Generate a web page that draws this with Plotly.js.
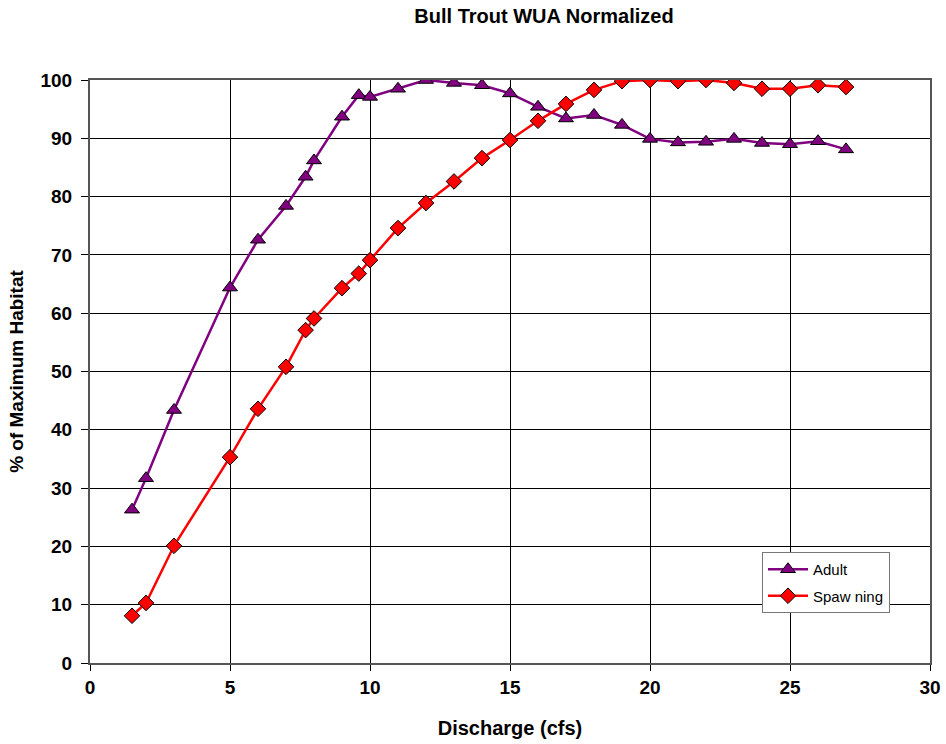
<!DOCTYPE html>
<html><head><meta charset="utf-8">
<script src="https://cdn.plot.ly/plotly-3.0.1.min.js"></script>
<style>html,body{margin:0;padding:0;background:#fff}#chart{width:946px;height:744px}</style>
</head><body><div id="chart"></div>
<script>
const discharge = [1.5, 2, 3, 5, 6, 7, 7.7, 8, 9, 9.6, 10, 11, 12, 13, 14, 15, 16, 17, 18, 19, 20, 21, 22, 23, 24, 25, 26, 27];
const adult = [26.3, 31.7, 43.4, 64.4, 72.6, 78.4, 83.4, 86.2, 93.7, 97.4, 97.1, 98.5, 100, 99.5, 99.1, 97.7, 95.4, 93.4, 94.0, 92.3, 89.9, 89.3, 89.4, 89.9, 89.2, 89.0, 89.5, 88.1];
const spawning = [8.1, 10.3, 20.1, 35.3, 43.6, 50.8, 57.1, 59.1, 64.3, 66.8, 69.1, 74.6, 78.9, 82.6, 86.6, 89.7, 93.0, 95.9, 98.3, 99.8, 100, 99.8, 100, 99.5, 98.5, 98.5, 99.1, 98.8];
const xTicks = [0, 5, 10, 15, 20, 25, 30];
const yTicks = [0, 10, 20, 30, 40, 50, 60, 70, 80, 90, 100];

const font = 'Liberation Sans, Arial, sans-serif';
const traces = [
  {x: discharge, y: adult, name: 'Adult', legendgroup: 'a', mode: 'lines+markers', type: 'scatter',
   line: {color: '#800080', width: 2.5},
   marker: {symbol: 'triangle-up', size: 13, color: '#800080', line: {color: '#000', width: 1}}},
  {x: discharge, y: spawning, name: 'Spaw ning', legendgroup: 'b', mode: 'lines+markers', type: 'scatter',
   line: {color: '#FF0000', width: 2.5},
   marker: {symbol: 'diamond', size: 12, color: '#FF0000', line: {color: '#000', width: 1}}}
];
const layout = {
  width: 946, height: 744,
  margin: {l: 90, r: 16, t: 80, b: 81},
  paper_bgcolor: '#fff', plot_bgcolor: '#fff',
  font: {family: font, color: '#000'},
  title: {text: '<b>Bull Trout WUA Normalized</b>', font: {size: 20, family: font}, x: 544 / 946, xanchor: 'center', xref: 'container', y: 1 - 16 / 744, yanchor: 'middle'},
  xaxis: {range: [0, 30], tickvals: xTicks, ticktext: xTicks.map(v => '<b>' + v + '</b>'),
    showgrid: true, gridcolor: '#000', gridwidth: 1, zeroline: false,
    showline: true, linecolor: '#555', linewidth: 2, mirror: true,
    ticks: 'outside', ticklen: 6, tickcolor: '#000', tickfont: {size: 19, family: font},
    title: {text: '<b>Discharge (cfs)</b>', font: {size: 20, family: font}, standoff: 24}},
  yaxis: {range: [0, 100], tickvals: yTicks, ticktext: yTicks.map(v => '<b>' + v + '</b>'),
    showgrid: true, gridcolor: '#000', gridwidth: 1, zeroline: false,
    showline: true, linecolor: '#555', linewidth: 2, mirror: true,
    ticks: 'outside', ticklen: 7, tickcolor: '#000', tickfont: {size: 19, family: font},
    ticklabelstandoff: 5,
    title: {text: '<b>% of Maximum Habitat</b>', font: {size: 19, family: font}, standoff: 12}},
  showlegend: true,
  legend: {x: (762 - 90) / 840, y: (663 - 552) / 583, xanchor: 'left', yanchor: 'top', bgcolor: '#fff',
    bordercolor: '#777', borderwidth: 1, font: {size: 15, family: font}, tracegroupgap: 4, itemwidth: 40}
};
Plotly.newPlot('chart', traces, layout, {displayModeBar: false, staticPlot: true});
</script></body></html>
